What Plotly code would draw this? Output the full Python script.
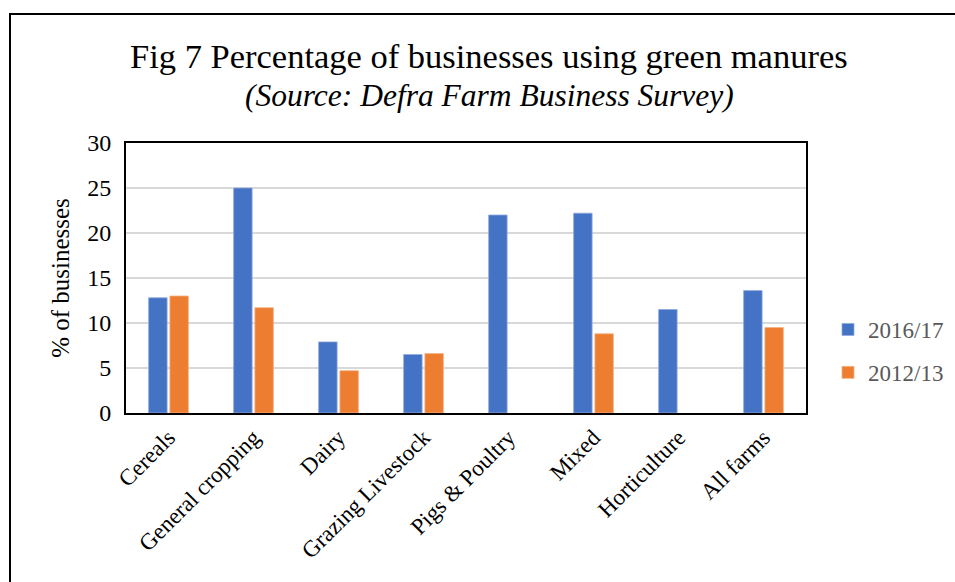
import plotly.graph_objects as go

categories = ["Cereals", "General cropping", "Dairy", "Grazing Livestock",
              "Pigs & Poultry", "Mixed", "Horticulture", "All farms"]
series_2016 = [12.8, 25.0, 7.9, 6.5, 22.0, 22.2, 11.5, 13.6]
series_2012 = [13.0, 11.7, 4.7, 6.6, None, 8.8, None, 9.5]
y_ticks = [0, 5, 10, 15, 20, 25, 30]

W, H = 955, 582
L, R, T, B = 126, 806, 143, 413
FONT = "Liberation Serif, Times New Roman, serif"

fig = go.Figure()
fig.add_trace(go.Bar(name="2016/17", x=categories, y=series_2016,
                     marker=dict(color="#4472C4", line=dict(color="#8FAADC", width=0.8)),
                     legendgroup="a"))
fig.add_trace(go.Bar(name="2012/13", x=categories, y=series_2012,
                     marker=dict(color="#ED7D31", line=dict(color="#F4B183", width=0.8)),
                     legendgroup="b"))

pw, ph = R - L, B - T
def px(x):
    return (x - L) / pw
def py(y):
    return (B - y) / ph

fig.update_layout(
    width=W, height=H,
    margin=dict(l=L, r=W - R, t=T, b=H - B, pad=0, autoexpand=False),
    paper_bgcolor="white", plot_bgcolor="white",
    barmode="group", bargap=0.5, bargroupgap=0.13,
    font=dict(family=FONT, color="black", size=20),
    showlegend=True,
    legend=dict(x=px(828), y=py(351), xanchor="left", yanchor="middle",
                font=dict(family=FONT, size=23, color="#595959"),
                tracegroupgap=10, traceorder="grouped", itemwidth=30,
                bgcolor="rgba(0,0,0,0)"),
    xaxis=dict(showgrid=False, ticks="", tickangle=-45,
               tickfont=dict(family=FONT, size=23, color="black"),
               showline=True, linecolor="black", linewidth=2, mirror=True),
    yaxis=dict(range=[0, 30], tickvals=y_ticks, ticks="",
               showgrid=True, gridcolor="#D9D9D9", gridwidth=1.5,
               tickfont=dict(family=FONT, size=24, color="black"),
               showline=True, linecolor="black", linewidth=2, mirror=True,
               zeroline=False, ticklabelstandoff=8,
               title=dict(text="% of businesses", font=dict(family=FONT, size=25, color="black"),
                          standoff=10)),
    annotations=[
        dict(text="Fig 7 Percentage of businesses using green manures",
             xref="paper", yref="paper", x=px(489), y=py(56), xanchor="center", yanchor="middle",
             showarrow=False, font=dict(family=FONT, size=34.5, color="black")),
        dict(text="<i>(Source: Defra Farm Business Survey)</i>",
             xref="paper", yref="paper", x=px(489), y=py(95), xanchor="center", yanchor="middle",
             showarrow=False, font=dict(family=FONT, size=31.5, color="black")),
    ],
    shapes=[
        dict(type="rect", xref="paper", yref="paper",
             x0=px(10), x1=px(990), y0=py(640), y1=py(14),
             line=dict(color="black", width=2), fillcolor="rgba(0,0,0,0)", layer="above"),
    ],
)

fig.write_html("out.html")
